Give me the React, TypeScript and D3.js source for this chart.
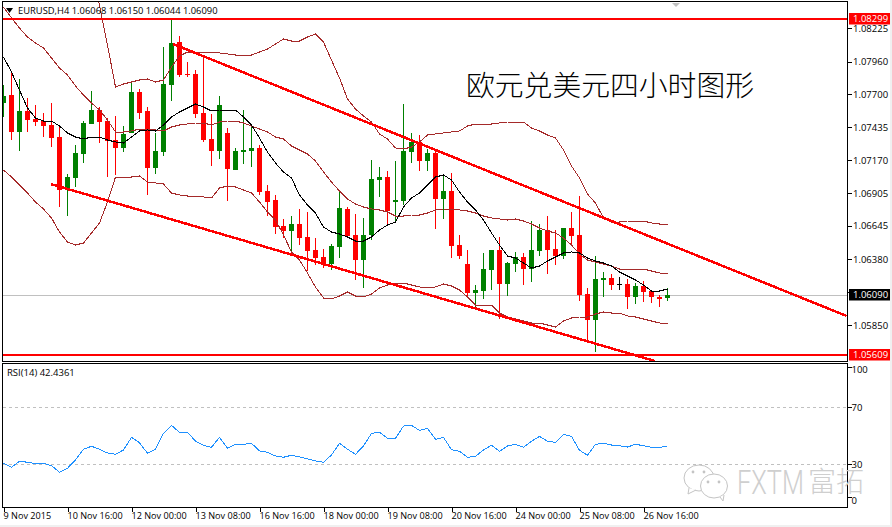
import React, { useEffect, useRef } from 'react';
import * as d3 from 'd3';

const opens = [
  1.07628, 1.07692, 1.07396, 1.07564, 1.075, 1.07484, 1.07452, 1.07356, 1.06932, 1.07028,
  1.0722, 1.0746, 1.07572, 1.07484, 1.07332, 1.07268, 1.07388, 1.07716, 1.07564, 1.07108,
  1.07236, 1.07772, 1.08116, 1.0786, 1.0786, 1.07548, 1.0734, 1.07244, 1.07388, 1.07092,
  1.07236, 1.07244, 1.07268, 1.06924, 1.06852, 1.06644, 1.06604, 1.0666, 1.06556, 1.06452,
  1.06396, 1.0634, 1.06476, 1.0678, 1.06572, 1.06372, 1.06572, 1.07012, 1.07036, 1.06836,
  1.06844, 1.07236, 1.07316, 1.07164, 1.07228, 1.0686, 1.06924, 1.06492, 1.0634, 1.06108,
  1.06124, 1.06292, 1.06452, 1.0618, 1.0634, 1.06396, 1.063, 1.06444, 1.06612, 1.0646,
  1.06404, 1.06628, 1.06572, 1.061, 1.05892, 1.06212, 1.06228, 1.06176, 1.0618, 1.06076,
  1.06164, 1.06124, 1.06076, 1.06068,
];
const highs = [
  1.07772, 1.07884, 1.0782, 1.07668, 1.07612, 1.07548, 1.07628, 1.07436, 1.0706, 1.07292,
  1.07484, 1.07724, 1.07596, 1.07508, 1.07524, 1.07444, 1.07788, 1.0774, 1.07596, 1.07388,
  1.08076, 1.08292, 1.08164, 1.07956, 1.07892, 1.08012, 1.0754, 1.07684, 1.07428, 1.07268,
  1.07572, 1.07436, 1.07292, 1.06972, 1.06892, 1.067, 1.06724, 1.0678, 1.06756, 1.06548,
  1.0646, 1.065, 1.06916, 1.06796, 1.0674, 1.06708, 1.07172, 1.07116, 1.07084, 1.07164,
  1.0762, 1.07388, 1.07372, 1.0726, 1.0726, 1.07052, 1.07068, 1.06572, 1.06452, 1.06172,
  1.06428, 1.06452, 1.06556, 1.06356, 1.06436, 1.06428, 1.06684, 1.0666, 1.06724, 1.06612,
  1.06628, 1.06756, 1.06884, 1.06148, 1.06404, 1.06276, 1.0626, 1.06236, 1.0622, 1.06188,
  1.06204, 1.06132, 1.06092, 1.0615,
];
const lows = [
  1.07516, 1.07332, 1.07244, 1.07396, 1.07444, 1.07356, 1.07276, 1.06796, 1.06724, 1.06956,
  1.07148, 1.0746, 1.07308, 1.07036, 1.07052, 1.07236, 1.07388, 1.075, 1.06892, 1.0706,
  1.07204, 1.07644, 1.07836, 1.07836, 1.07508, 1.07316, 1.07124, 1.0718, 1.06844, 1.07092,
  1.0714, 1.07116, 1.06892, 1.06724, 1.0658, 1.06548, 1.06404, 1.06492, 1.06284, 1.06332,
  1.06308, 1.06292, 1.06388, 1.06556, 1.06212, 1.06148, 1.06532, 1.06876, 1.06652, 1.06668,
  1.06812, 1.07148, 1.07084, 1.07084, 1.0662, 1.067, 1.06388, 1.0638, 1.06068, 1.05988,
  1.0606, 1.06132, 1.059, 1.06084, 1.06276, 1.06172, 1.06196, 1.06404, 1.0626, 1.06332,
  1.0638, 1.06492, 1.06044, 1.05724, 1.05636, 1.06076, 1.06132, 1.06132, 1.0598, 1.0602,
  1.06036, 1.06028, 1.05996, 1.06044,
];
const closes = [
  1.07684, 1.07396, 1.07564, 1.07492, 1.07476, 1.07444, 1.07348, 1.06932, 1.07036, 1.07228,
  1.07468, 1.07572, 1.07476, 1.07324, 1.07268, 1.0738, 1.07716, 1.07548, 1.07108, 1.07244,
  1.0778, 1.08108, 1.07852, 1.07852, 1.0754, 1.07332, 1.07244, 1.07612, 1.071, 1.07244,
  1.07252, 1.07268, 1.06916, 1.06836, 1.06636, 1.06604, 1.0666, 1.06548, 1.06444, 1.06388,
  1.0634, 1.06484, 1.06788, 1.06564, 1.06372, 1.06572, 1.0702, 1.07036, 1.06764, 1.06852,
  1.07244, 1.07316, 1.07164, 1.07228, 1.0686, 1.06924, 1.06484, 1.06404, 1.06108, 1.06132,
  1.063, 1.06452, 1.0618, 1.06348, 1.06396, 1.063, 1.06452, 1.06612, 1.06452, 1.06404,
  1.06628, 1.06564, 1.06092, 1.05892, 1.0622, 1.06228, 1.06172, 1.06176, 1.06076, 1.06164,
  1.06116, 1.06076, 1.0606, 1.0609,
];

// fast moving average (black)
const maLine = [
  1.07996, 1.07876, 1.07732, 1.07588, 1.07508, 1.07484, 1.07484, 1.07444, 1.07388, 1.07356,
  1.0734, 1.07356, 1.07356, 1.07332, 1.07316, 1.07308, 1.07356, 1.07404, 1.07412, 1.07404,
  1.07452, 1.07516, 1.07556, 1.07588, 1.0762, 1.07596, 1.07564, 1.07572, 1.07572, 1.07572,
  1.07516, 1.07452, 1.07348, 1.07236, 1.07148, 1.07076, 1.07028, 1.06892, 1.06812, 1.06748,
  1.06636, 1.06596, 1.0658, 1.06556, 1.06524, 1.06524, 1.06556, 1.06612, 1.06652, 1.06676,
  1.06796, 1.06868, 1.06908, 1.06972, 1.07036, 1.07052, 1.07012, 1.06916, 1.06836, 1.06772,
  1.06692, 1.06588, 1.06492, 1.06404, 1.06388, 1.06348, 1.06308, 1.06324, 1.06364, 1.06396,
  1.06428, 1.06436, 1.06428, 1.06388, 1.06364, 1.06348, 1.06324, 1.06276, 1.06244, 1.06212,
  1.06172, 1.06124, 1.06124, 1.0614,
];

// brown envelope lines; the top one only comes into view at bar 11
const upperBandFirstBar = 11;
const upperBand = [
  1.08692, 1.08412, 1.08092, 1.07756, 1.0778, 1.07796, 1.07812, 1.0782, 1.07796,
  1.07812, 1.07916, 1.08004, 1.08036, 1.08036, 1.08036, 1.08036, 1.08028, 1.0802, 1.08012,
  1.08012, 1.08012, 1.08036, 1.0806, 1.081, 1.0814, 1.08124, 1.08124, 1.08156, 1.0818,
  1.08116, 1.07972, 1.07828, 1.0766, 1.0758, 1.07524, 1.07476, 1.0738, 1.0734, 1.07268,
  1.0726, 1.07276, 1.07316, 1.07372, 1.0738, 1.07388, 1.07396, 1.07404, 1.07444, 1.0746,
  1.0746, 1.0746, 1.07468, 1.07476, 1.07476, 1.07476, 1.07428, 1.07404, 1.07372, 1.07348,
  1.07252, 1.07124, 1.07028, 1.069, 1.06828, 1.06708, 1.06676, 1.06676, 1.06684, 1.06684,
  1.06684, 1.06668, 1.0666, 1.0666,
];
const midBand = [
  1.08396, 1.08308, 1.08228, 1.08156, 1.08108, 1.08068, 1.07988, 1.07908, 1.07852, 1.07764,
  1.07692, 1.07628, 1.07572, 1.07492, 1.07396, 1.07396, 1.07404, 1.0742, 1.0742, 1.07412,
  1.07404, 1.07436, 1.07452, 1.0746, 1.07468, 1.07468, 1.07452, 1.07476, 1.07484, 1.07484,
  1.07468, 1.07444, 1.0742, 1.07396, 1.07356, 1.0734, 1.07284, 1.07252, 1.0722, 1.07164,
  1.07076, 1.06996, 1.06924, 1.0686, 1.0682, 1.06796, 1.0678, 1.06772, 1.06756, 1.06724,
  1.06724, 1.06732, 1.06732, 1.06748, 1.06772, 1.0678, 1.0678, 1.06772, 1.06764, 1.06748,
  1.06724, 1.06708, 1.067, 1.06692, 1.067, 1.06684, 1.0666, 1.06628, 1.06604, 1.06588,
  1.06548, 1.06492, 1.0642, 1.06372, 1.06356, 1.0634, 1.06324, 1.063, 1.063, 1.063,
  1.063, 1.06284, 1.06268, 1.0626,
];
const lowerBand = [
  1.07092, 1.07036, 1.06972, 1.06908, 1.06836, 1.0678, 1.06708, 1.06596, 1.06516, 1.06492,
  1.06508, 1.06588, 1.06668, 1.06836, 1.07036, 1.07036, 1.07036, 1.07044, 1.06996, 1.06988,
  1.0698, 1.06908, 1.06892, 1.06884, 1.06884, 1.06876, 1.06868, 1.06948, 1.06964, 1.06956,
  1.06932, 1.06908, 1.06836, 1.06756, 1.06692, 1.06572, 1.06436, 1.06372, 1.06268, 1.06156,
  1.06068, 1.0606, 1.06084, 1.06116, 1.06084, 1.06076, 1.061, 1.06148, 1.06172, 1.06188,
  1.06188, 1.06172, 1.06156, 1.06148, 1.06156, 1.0618, 1.06164, 1.06132, 1.06076, 1.06012,
  1.06012, 1.06012, 1.05948, 1.05916, 1.059, 1.05884, 1.05868, 1.05868, 1.05852, 1.05836,
  1.05884, 1.05908, 1.05916, 1.05916, 1.0594, 1.05956, 1.05948, 1.05948, 1.05924, 1.05916,
  1.059, 1.05884, 1.05868, 1.0586,
];

const rsiValues = [
  30.7, 27.9, 32.1, 31.4, 30.4, 30.7, 29.0, 24.4, 27.2, 33.0,
  40.5, 42.6, 40.5, 37.9, 37.0, 40.0, 48.9, 45.1, 37.7, 40.5,
  51.7, 57.3, 52.4, 52.4, 46.3, 43.3, 41.9, 48.9, 41.2, 44.0,
  44.0, 44.7, 39.3, 38.4, 35.8, 34.9, 36.3, 35.1, 33.7, 32.3,
  31.4, 36.5, 44.7, 40.5, 37.0, 42.8, 51.7, 52.4, 48.2, 48.2,
  56.8, 57.3, 53.8, 55.2, 47.5, 48.9, 40.2, 39.1, 34.9, 35.6,
  40.0, 43.3, 39.1, 42.8, 44.0, 41.9, 46.1, 49.6, 46.1, 45.4,
  51.0, 49.6, 39.8, 36.3, 44.0, 44.7, 43.5, 43.0, 42.1, 44.0,
  43.0, 41.9, 41.9, 42.4361,
];

// channel trend lines as [bar, price]
const channelUpper: [number, number][] = [[21.2, 1.081], [105.4, 1.05924]];
const channelLower: [number, number][] = [[5.9, 1.0698], [81.4, 1.05564]];

const resistance = 1.08299;
const support = 1.05609;
const lastPrice = 1.0609;

const priceTicks = [1.08225, 1.0796, 1.077, 1.07435, 1.0717, 1.06905, 1.06645, 1.0638, 1.06115, 1.0585];
const rsiTicks = [100, 70, 30, 0];
const rsiLevels = [70, 30];
const timeBars = [0, 8, 16, 24, 32, 40, 48, 56, 64, 72, 80];
const timeLabels = [
  '9 Nov 2015', '10 Nov 16:00', '12 Nov 00:00', '13 Nov 08:00', '16 Nov 16:00', '18 Nov 00:00',
  '19 Nov 08:00', '20 Nov 16:00', '24 Nov 00:00', '25 Nov 08:00', '26 Nov 16:00',
];

const WIDTH = 892;
const HEIGHT = 527;
const UI_FONT = '"Open Sans", sans-serif';

const App = () => {
  const chartRef = useRef<SVGSVGElement | null>(null);

  useEffect(() => {
    if (!chartRef.current) return;
    const svg = d3.select(chartRef.current);
    svg.selectAll('*').remove();

    const left = 2.5;
    const right = 847.5;
    const mainTop = 1.5;
    const mainBottom = 361;
    const rsiTop = 363.5;
    const rsiBottom = 507.5;

    const x = d3.scaleLinear().domain([0, 83]).range([3.5, 667.5]);
    const y = d3.scaleLinear().domain([1.08452, 1.05572]).range([0, 360]);
    const rsiY = d3.scaleLinear().domain([100, 0]).range([364.5, 507]);

    svg.append('rect').attr('width', WIDTH).attr('height', HEIGHT).attr('fill', '#fff');
    // window edge at right and bottom of the screenshot
    svg.append('rect').attr('x', 0).attr('y', 525).attr('width', WIDTH).attr('height', 2).attr('fill', '#f0f0f0');
    svg.append('rect').attr('x', 890).attr('y', 0).attr('width', 2).attr('height', HEIGHT).attr('fill', '#f0f0f0');

    const defs = svg.append('defs');
    defs.append('clipPath').attr('id', 'main-clip').append('rect')
      .attr('x', left).attr('y', mainTop).attr('width', right - left).attr('height', mainBottom - mainTop);

    const main = svg.append('g').attr('clip-path', 'url(#main-clip)').style('shape-rendering', 'crispEdges');

    // Last price line sits behind the candles
    main.append('line')
      .attr('x1', left).attr('x2', right)
      .attr('y1', Math.round(y(lastPrice)) + 0.5).attr('y2', Math.round(y(lastPrice)) + 0.5)
      .attr('stroke', '#c0c0c0');

    const colorOf = (i: number) =>
      closes[i] > opens[i] ? '#008000' : closes[i] < opens[i] ? '#ff0000' : '#000';

    // Candles
    d3.range(opens.length).forEach((i) => {
      const g = main.append('g').attr('stroke', 'none');
      g.append('line')
        .attr('x1', x(i)).attr('x2', x(i))
        .attr('y1', Math.round(y(highs[i]))).attr('y2', Math.round(y(lows[i])))
        .attr('stroke', colorOf(i));
      const top = Math.round(y(Math.max(opens[i], closes[i])));
      const bottom = Math.round(y(Math.min(opens[i], closes[i])));
      g.append('rect')
        .attr('x', x(i) - 2.5).attr('width', 5)
        .attr('y', top).attr('height', Math.max(bottom - top, 1))
        .attr('fill', colorOf(i));
    });

    const priceLine = d3.line<number>().x((_, i) => x(i)).y((d) => y(d));
    const addPath = (d: string | null, color: string, w = 1) =>
      main.append('path').attr('d', d).attr('fill', 'none').attr('stroke', color).attr('stroke-width', w);

    addPath(
      d3.line<number>().x((_, i) => x(i + upperBandFirstBar)).y((d) => y(d))(upperBand),
      '#a52a2a'
    );
    addPath(priceLine(midBand), '#a52a2a');
    addPath(priceLine(lowerBand), '#a52a2a');
    addPath(priceLine(maLine), '#000');

    // Channel and horizontal levels
    const trend = d3.line<[number, number]>().x((d) => x(d[0])).y((d) => y(d[1]));
    addPath(trend(channelUpper), '#ff0000', 2.5);
    addPath(trend(channelLower), '#ff0000', 2.5);
    [resistance, support].forEach((p) => {
      main.append('line')
        .attr('x1', left).attr('x2', right)
        .attr('y1', y(p)).attr('y2', y(p))
        .attr('stroke', '#ff0000').attr('stroke-width', 2);
    });

    // Panel frames
    [[mainTop, mainBottom], [rsiTop, rsiBottom]].forEach(([t, b]) => {
      svg.append('rect')
        .attr('x', left).attr('y', t).attr('width', right - left).attr('height', b - t)
        .attr('fill', 'none').attr('stroke', '#000').style('shape-rendering', 'crispEdges');
    });

    // Price axis
    const priceAxis = svg.append('g')
      .attr('transform', `translate(${right},0)`)
      .call(d3.axisRight(y).tickValues(priceTicks).tickSize(4).tickPadding(1.5).tickFormat(d3.format('.5f') as any));
    priceAxis.select('.domain').remove();
    priceAxis.selectAll('text').attr('font-family', UI_FONT).attr('font-size', 9.5).attr('fill', '#000');
    priceAxis.selectAll('line').attr('stroke', '#000').style('shape-rendering', 'crispEdges');

    // Boxed price labels
    const boxed = [
      { price: resistance, fill: '#ff0000' },
      { price: lastPrice, fill: '#000' },
      { price: support, fill: '#ff0000' },
    ];
    boxed.forEach(({ price, fill }) => {
      const cy = y(price);
      svg.append('rect')
        .attr('x', 849).attr('y', Math.round(cy) - 6).attr('width', 41).attr('height', 11.5)
        .attr('fill', fill);
      svg.append('text')
        .attr('x', 853).attr('y', Math.round(cy) - 0.5).attr('dy', '0.34em')
        .attr('font-family', UI_FONT).attr('font-size', 9.5).attr('fill', '#fff')
        .text(d3.format('.5f')(price));
    });

    // RSI panel
    const rsi = svg.append('g').style('shape-rendering', 'crispEdges');
    rsiLevels.forEach((v) => {
      rsi.append('line')
        .attr('x1', left).attr('x2', right)
        .attr('y1', Math.round(rsiY(v)) + 0.5).attr('y2', Math.round(rsiY(v)) + 0.5)
        .attr('stroke', '#c0c0c0').attr('stroke-dasharray', '3,3');
    });
    rsi.append('path')
      .attr('d', d3.line<number>().x((_, i) => x(i)).y((d) => rsiY(d))(rsiValues))
      .attr('fill', 'none').attr('stroke', '#1e90ff');

    const rsiAxis = svg.append('g')
      .attr('transform', `translate(${right},0)`)
      .call(d3.axisRight(rsiY).tickValues(rsiTicks).tickSize(4).tickPadding(0));
    rsiAxis.select('.domain').remove();
    rsiAxis.selectAll('text').attr('font-family', UI_FONT).attr('font-size', 9.5).attr('fill', '#000');
    rsiAxis.selectAll('line').attr('stroke', '#000').style('shape-rendering', 'crispEdges');
    // the terminal pulls the end labels inside the panel
    rsiAxis.selectAll<SVGGElement, number>('.tick')
      .filter((d) => d === 100 || d === 0)
      .attr('transform', (d) => `translate(0,${d === 100 ? 367.5 : 497.5})`)
      .select('text').attr('y', (d) => (d === 100 ? 2.5 : 3.5));

    // Time axis
    const timeAxis = svg.append('g')
      .attr('transform', `translate(0,${rsiBottom})`)
      .call(
        d3.axisBottom(x).tickValues(timeBars).tickSize(4).tickPadding(1.5)
          .tickFormat((_, i) => timeLabels[i])
      );
    timeAxis.select('.domain').remove();
    timeAxis.selectAll('text')
      .attr('text-anchor', 'start').attr('dx', -0.5)
      .attr('font-family', UI_FONT).attr('font-size', 9.1).attr('fill', '#000');
    timeAxis.selectAll('line').attr('stroke', '#000').style('shape-rendering', 'crispEdges');

    // Header text
    const last = opens.length - 1;
    const fmt = d3.format('.5f');
    svg.append('path').attr('d', 'M6,8H13L9.5,13Z').attr('fill', '#000');
    svg.append('path').attr('d', 'M672,3H680L676,7Z').attr('fill', '#c0c0c0');
    svg.append('text')
      .attr('x', 18).attr('y', 13.5)
      .attr('font-family', UI_FONT).attr('font-size', 9.4).attr('fill', '#000')
      .text(`EURUSD,H4 ${fmt(opens[last])} ${fmt(highs[last])} ${fmt(lows[last])} ${fmt(closes[last])}`);
    svg.append('text')
      .attr('x', 7).attr('y', 376)
      .attr('font-family', UI_FONT).attr('font-size', 9.5).attr('fill', '#000')
      .text(`RSI(14) ${rsiValues[last].toFixed(4)}`);

    // Chart caption
    svg.append('text')
      .attr('x', 466).attr('y', 96)
      .attr('font-family', '"Noto Sans CJK SC", sans-serif').attr('font-size', 28.8)
      .attr('font-weight', 300).attr('fill', '#000')
      .text('欧元兑美元四小时图形');

    // Watermark
    const mark = svg.append('g').attr('fill', '#fff').attr('stroke', '#c4c4c4').attr('stroke-width', 1);
    mark.append('ellipse').attr('cx', 699).attr('cy', 478).attr('rx', 15).attr('ry', 13);
    mark.append('path').attr('d', 'M689,488L688,494L696,490');
    mark.append('ellipse').attr('cx', 714).attr('cy', 486).attr('rx', 13.5).attr('ry', 12);
    mark.append('path').attr('d', 'M720,497L723,501L724,495');
    [[693, 472], [704, 472], [708, 482], [719, 482]].forEach(([cx, cy]) => {
      svg.append('circle').attr('cx', cx).attr('cy', cy).attr('r', 1.4).attr('fill', '#c4c4c4');
    });
    svg.append('text')
      .attr('x', 737).attr('y', 494)
      .attr('font-family', 'Roboto, sans-serif').attr('font-size', 33).attr('font-weight', 300)
      .attr('textLength', 67).attr('lengthAdjust', 'spacingAndGlyphs')
      .attr('fill', '#cfcfcf')
      .text('FXTM');
    svg.append('text')
      .attr('x', 808).attr('y', 492)
      .attr('font-family', '"Noto Sans CJK SC", sans-serif').attr('font-size', 28).attr('font-weight', 300)
      .attr('fill', '#cfcfcf')
      .text('富拓');
  }, []);

  return (
    <svg
      ref={chartRef}
      width={WIDTH}
      height={HEIGHT}
      style={{ position: 'absolute', left: 0, top: 0 }}
    />
  );
};

export default App;
